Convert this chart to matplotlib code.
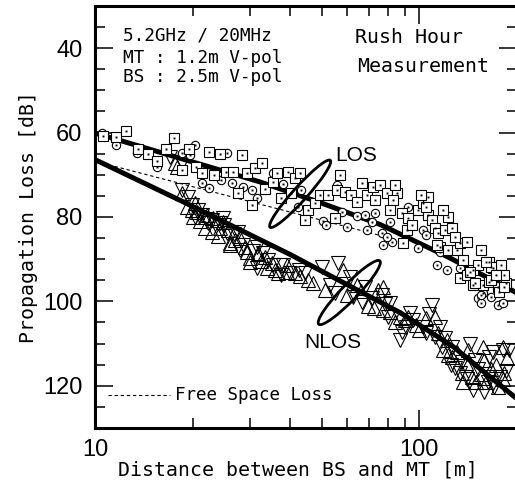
import matplotlib
matplotlib.use("Agg")
import matplotlib.pyplot as plt
from matplotlib.patches import Ellipse
from matplotlib.transforms import ScaledTranslation
from matplotlib.ticker import FixedLocator, MultipleLocator, NullFormatter

# --- data: distance [m], loss [dB] ---
los_sq = [
    (10.6, 60.8), (11.6, 61.0), (12.5, 59.6), (13.6, 63.8), (14.6, 65.0), (15.5, 66.7),
    (16.6, 63.8), (17.5, 61.2), (19.5, 63.8), (18.6, 68.8), (20.5, 68.1), (21.4, 69.5),
    (22.5, 64.6), (24.3, 65.0), (23.3, 70.0), (25.4, 69.3), (27.6, 74.3), (28.4, 65.3),
    (29.5, 69.5), (30.5, 77.1), (31.2, 68.3), (26.7, 69.3), (32.7, 67.2), (33.5, 73.3),
    (35.5, 71.7), (36.4, 69.5), (39.4, 69.3), (41.5, 70.7), (42.9, 69.5), (40.3, 74.3),
    (37.5, 75.4), (45.4, 78.3), (47.8, 76.6), (44.5, 80.7), (49.5, 74.7), (52.3, 74.7),
    (56.8, 70.0), (55.7, 73.6), (58.8, 74.0), (66.6, 71.9), (61.6, 74.7), (55.0, 80.2),
    (69.1, 74.7), (64.4, 76.4), (72.1, 72.8), (75.7, 72.4), (79.6, 74.3), (85.4, 74.3),
    (83.0, 75.9), (81.3, 78.3), (88.6, 79.0), (91.8, 83.0), (89.2, 86.1), (98.7, 78.3),
    (102.3, 76.6), (106.7, 75.2), (106.0, 79.5), (109.6, 80.7), (111.8, 82.5), (114.2, 83.7),
    (122.6, 79.9), (120.0, 83.0), (126.1, 82.5), (115.8, 87.0), (122.6, 87.8), (130.7, 87.8),
    (133.6, 86.1), (140.4, 85.9), (136.6, 90.1), (133.6, 94.4), (140.4, 93.7), (146.6, 92.5),
    (152.1, 91.3), (163.8, 90.6), (168.6, 92.0), (178.3, 91.3), (146.6, 96.0), (156.7, 96.0),
    (163.8, 95.3), (174.7, 96.7), (184.8, 95.6), (182.2, 93.7), (113.4, 86.6), (92.5, 80.2),
    (143.5, 93.0), (148.8, 95.6), (166.1, 94.9), (176.0, 97.7), (166.1, 91.8), (182.2, 96.5),
    (73.2, 75.9), (84.2, 72.4), (95.2, 81.8), (100.9, 74.7), (104.5, 77.6), (118.5, 78.3),
    (128.9, 84.7), (154.4, 87.8), (160.2, 90.6), (172.3, 93.7),
]
los_ci = [
    (10.5, 60.1), (11.6, 62.9), (13.5, 64.8), (15.5, 68.1), (18.6, 64.8), (19.6, 65.3),
    (20.3, 62.9), (21.4, 71.9), (22.5, 73.1), (24.5, 71.2), (25.5, 64.8), (26.5, 71.9),
    (28.6, 72.8), (30.5, 73.6), (31.6, 75.4), (35.5, 69.5), (38.0, 72.1), (43.2, 73.6),
    (42.3, 77.6), (50.5, 80.9), (51.6, 81.8), (55.7, 72.4), (57.6, 78.8), (60.0, 82.3),
    (64.4, 79.7), (69.1, 83.0), (68.2, 79.5), (71.6, 81.1), (73.2, 79.0), (76.8, 83.7),
    (77.3, 86.6), (82.4, 85.9), (79.6, 84.7), (81.3, 81.1), (92.5, 77.6), (98.7, 87.3),
    (102.3, 83.0), (104.5, 84.2), (115.8, 88.2), (113.4, 91.3), (121.7, 92.5), (133.6, 92.0),
    (152.1, 99.1), (154.4, 100.3), (156.7, 97.9), (166.1, 98.9), (174.7, 100.8), (180.9, 100.3),
    (154.4, 98.4),
]
nlos_up = [
    (17.9, 68.1), (17.7, 67.2), (18.6, 74.3), (19.2, 77.6), (19.9, 78.3), (20.3, 76.6),
    (20.6, 78.8), (20.0, 79.9), (21.9, 79.9), (21.9, 82.5), (22.2, 79.5), (23.0, 83.5),
    (23.1, 80.2), (23.8, 80.7), (24.3, 82.5), (24.8, 81.1), (25.7, 83.0), (26.1, 86.1),
    (28.0, 84.9), (29.5, 88.2), (30.1, 89.6), (31.8, 88.5), (33.5, 89.4), (34.0, 92.0),
    (35.2, 90.8), (36.7, 93.2), (39.2, 93.0), (39.2, 91.3), (41.5, 93.2), (47.1, 95.6),
    (51.2, 97.2), (58.0, 92.5), (64.4, 96.0), (69.6, 101.2), (74.7, 97.2), (77.3, 102.0),
    (84.2, 105.0), (92.5, 103.6), (99.4, 106.7), (111.8, 103.6), (121.7, 109.1), (130.7, 112.1),
    (141.4, 111.4), (156.7, 110.7), (172.3, 115.0), (182.2, 116.9), (160.2, 119.2), (135.6, 116.9),
    (145.6, 117.8), (180.9, 118.5), (122.6, 112.6), (77.3, 96.5), (81.3, 102.4), (87.3, 103.6),
    (97.3, 105.5), (114.2, 107.4), (126.1, 113.1), (136.6, 119.0), (154.4, 117.3), (157.8, 113.8),
    (174.7, 120.4), (180.9, 110.9), (26.1, 86.6), (30.1, 90.6),
    (21.0, 81.0), (24.0, 84.5), (27.0, 85.5), (29.0, 87.0), (32.5, 90.5), (36.0, 92.5),
    (43.0, 94.0), (45.5, 95.0), (60.0, 98.5), (66.0, 97.5), (72.5, 101.5), (90.0, 104.5),
    (105.0, 104.0), (118.0, 111.5), (139.0, 114.5), (150.0, 119.0), (166.0, 116.0), (186.0, 113.5),
]
nlos_dn = [
    (17.0, 65.7), (18.6, 67.2), (18.6, 73.6), (19.4, 75.2), (19.9, 77.1), (20.3, 79.9),
    (20.8, 78.3), (21.4, 79.5), (22.3, 81.4), (23.0, 80.7), (24.3, 81.4), (24.8, 80.2),
    (25.5, 83.7), (27.5, 83.5), (28.6, 86.6), (31.6, 87.0), (33.0, 88.5), (34.2, 90.1),
    (31.6, 92.0), (35.5, 91.3), (38.0, 91.3), (40.0, 93.2), (44.5, 93.2), (50.2, 91.8),
    (55.0, 97.9), (56.1, 90.8), (61.2, 94.1), (66.6, 100.1), (71.6, 99.1), (76.8, 98.4),
    (80.1, 103.6), (88.6, 107.2), (95.9, 104.3), (104.5, 107.4), (109.6, 100.8), (115.8, 106.0),
    (126.1, 110.7), (135.6, 114.3), (148.8, 113.8), (163.8, 113.1), (180.9, 111.4), (169.8, 120.2),
    (146.6, 120.9), (128.9, 115.7), (163.8, 117.8), (188.6, 111.4), (117.4, 110.7), (81.3, 100.3),
    (87.3, 109.1), (93.8, 102.7), (102.3, 106.0), (120.0, 108.6), (133.6, 116.9), (143.5, 110.2),
    (162.5, 119.2), (168.6, 112.1), (184.8, 116.6), (28.0, 87.8),
    (22.0, 80.5), (25.0, 82.0), (26.8, 84.0), (30.8, 88.0), (37.5, 93.8), (42.5, 92.5),
    (53.0, 96.0), (62.5, 99.0), (68.0, 96.5), (78.5, 100.5), (91.0, 106.0), (107.0, 103.0),
    (112.0, 108.5), (125.0, 115.0), (140.0, 118.5), (152.0, 116.0), (177.0, 118.0), (158.0, 121.5),
]

los_fit_d = [10, 32.3, 49.5, 75.8, 122, 200]
los_fit_db = [60.1, 71.7, 76.6, 81.8, 89.4, 98.0]
nlos_fit_d = [10, 18.7, 40, 87.4, 127, 200]
nlos_fit_db = [66.4, 76.4, 88.9, 102.7, 110.7, 123.1]
fsl_d = [11.5, 78.6]
fsl_db = [68.0, 84.7]

# ellipse centres (d, dB), length/width in inches, angle in degrees
los_ell = (42.9, 74.5, 0.90, 0.14, 48)
nlos_ell = (60.8, 97.9, 0.88, 0.16, 46)

num_font = "Liberation Sans"
mono = "DejaVu Sans Mono"

fig = plt.figure(figsize=(5.15, 4.86), dpi=100)
ax = fig.add_axes([95 / 515, 58 / 486, 422 / 515, 422 / 486])

ax.plot(los_fit_d, los_fit_db, color="black", lw=3.6, solid_capstyle="butt", zorder=2)
ax.plot(nlos_fit_d, nlos_fit_db, color="black", lw=3.6, solid_capstyle="butt", zorder=2)
ax.plot(fsl_d, fsl_db, color="black", lw=0.8, ls=(0, (3, 2.5)), zorder=2)

d, v = zip(*nlos_up)
ax.plot(d, v, ls="none", marker="^", ms=9.5, mfc="none", mec="black", mew=0.8, zorder=3)
d, v = zip(*nlos_dn)
ax.plot(d, v, ls="none", marker="v", ms=9.5, mfc="none", mec="black", mew=0.8, zorder=3)
for series, mk, ms in ((los_ci, "o", 6), (los_sq, "s", 7)):
    d, v = zip(*series)
    ax.plot(d, v, ls="none", marker=mk, ms=ms, mfc="white", mec="black", mew=0.8, zorder=4)
    ax.plot(d, v, ls="none", marker="s", ms=1.4, mfc="black", mec="none", zorder=4)

for cx, cy, w, h, ang in (los_ell, nlos_ell):
    tr = fig.dpi_scale_trans + ScaledTranslation(cx, cy, ax.transData)
    ax.add_patch(Ellipse((0, 0), w, h, angle=ang, transform=tr, fill=False, lw=2.0,
                         ec="black", zorder=5))

ax.set_xscale("log")
ax.set_xlim(10, 200)
ax.set_ylim(130, 30)
ax.xaxis.set_major_locator(FixedLocator([10, 100]))
ax.xaxis.set_minor_locator(FixedLocator([20, 30, 40, 50, 60, 70, 80, 90, 200]))
ax.xaxis.set_minor_formatter(NullFormatter())
ax.set_xticklabels(["10", "100"])
ax.yaxis.set_major_locator(FixedLocator([40, 60, 80, 100, 120]))
ax.yaxis.set_minor_locator(MultipleLocator(5))

ax.tick_params(which="both", direction="in", top=True, right=True, width=1.1)
ax.tick_params(which="major", length=13)
ax.tick_params(which="minor", length=7)
ax.tick_params(axis="y", pad=9)
ax.tick_params(axis="x", pad=8)
for lab in ax.get_xticklabels() + ax.get_yticklabels():
    lab.set_fontfamily(num_font)
    lab.set_fontsize(17)
for sp in ax.spines.values():
    sp.set_linewidth(2.2)

ax.set_xlabel("Distance between BS and MT [m]", fontfamily=mono, fontsize=14.3)
ax.xaxis.set_label_coords(0.481, -0.078)
ax.set_ylabel("Propagation Loss [dB]", fontfamily=mono, fontsize=14.3, labelpad=4)

ax.text(0.066, 0.929, "5.2GHz / 20MHz", transform=ax.transAxes, family=mono, fontsize=12.8, va="center")
ax.text(0.066, 0.876, "MT : 1.2m V-pol", transform=ax.transAxes, family=mono, fontsize=12.8, va="center")
ax.text(0.066, 0.832, "BS : 2.5m V-pol", transform=ax.transAxes, family=mono, fontsize=12.8, va="center")
ax.text(0.616, 0.926, "Rush Hour", transform=ax.transAxes, family=mono, fontsize=14.3, va="center")
ax.text(0.621, 0.856, "Measurement", transform=ax.transAxes, family=mono, fontsize=14.3, va="center")

ax.text(0.619, 0.646, "LOS", transform=ax.transAxes, family=num_font, fontsize=15, va="center", ha="center")
ax.text(0.564, 0.202, "NLOS", transform=ax.transAxes, family=num_font, fontsize=15, va="center", ha="center")

ax.plot([0.031, 0.178], [0.078, 0.078], transform=ax.transAxes, color="black", lw=0.8, ls=(0, (3, 2.5)))
ax.text(0.19, 0.078, "Free Space Loss", transform=ax.transAxes, family=mono, fontsize=12.6, va="center")

fig.savefig("out.png", dpi=100)
